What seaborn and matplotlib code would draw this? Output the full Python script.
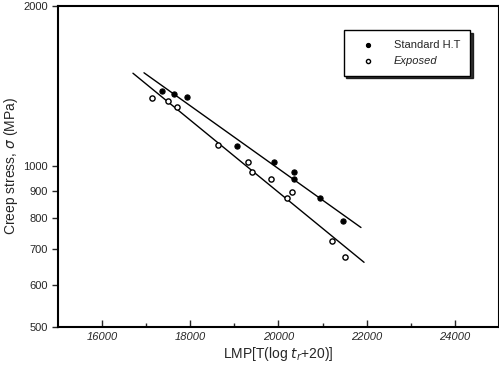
import numpy as np
import pandas as pd
import seaborn as sns
import matplotlib.pyplot as plt
from matplotlib.ticker import FixedLocator, NullFormatter

# data
std_lmp = [17360, 17630, 17925, 19060, 19900, 20350, 20350, 20940, 21460]
std_stress = [1386, 1367, 1350, 1093, 1019, 976, 947, 873, 790]
exp_lmp = [17130, 17495, 17700, 18630, 19310, 19400, 19830, 20190, 20305, 21210, 21510]
exp_stress = [1344, 1327, 1293, 1097, 1019, 976, 947, 873, 896, 725, 676]
# ranges of the two fitted lines
std_range = [16950, 21870]
exp_range = [16700, 21940]

xticks = [16000, 18000, 20000, 22000, 24000]
yticks = [500, 600, 700, 800, 900, 1000, 2000]

df = pd.DataFrame({
    'LMP': std_lmp + exp_lmp,
    'stress': std_stress + exp_stress,
    'group': ['Standard H.T'] * len(std_lmp) + ['Exposed'] * len(exp_lmp),
})

sns.set_style('ticks')
plt.rcParams['font.family'] = ['Liberation Sans', 'DejaVu Sans']

fig = plt.figure(figsize=(4.99, 3.74), dpi=100)
ax = fig.add_axes([0.1162, 0.1257, 0.8838, 0.8583])

# fitted lines (log stress vs LMP)
for lmp, st, rng in [(std_lmp, std_stress, std_range), (exp_lmp, exp_stress, exp_range)]:
    k, b = np.polyfit(lmp, np.log10(st), 1)
    xs = np.array(rng, dtype=float)
    ax.plot(xs, 10 ** (k * xs + b), color='black', lw=1.0, zorder=2)

sns.scatterplot(data=df[df.group == 'Standard H.T'], x='LMP', y='stress', ax=ax,
                marker='o', s=14, color='black', edgecolor='black', linewidth=0.8,
                label='Standard H.T', zorder=3)
sns.scatterplot(data=df[df.group == 'Exposed'], x='LMP', y='stress', ax=ax,
                marker='o', s=14, facecolor='white', edgecolor='black', linewidth=1.0,
                label='Exposed', zorder=3)

ax.set_yscale('log')
ax.set_xlim(15000, 25000)
ax.set_ylim(500, 2000)
ax.yaxis.set_major_locator(FixedLocator(yticks))
ax.yaxis.set_minor_locator(FixedLocator([]))
ax.yaxis.set_minor_formatter(NullFormatter())
ax.set_yticklabels([str(v) for v in yticks], fontsize=8)
ax.set_xticks(xticks)
ax.set_xticks([17000, 19000, 21000, 23000], minor=True)
ax.set_xticklabels([str(v) for v in xticks], fontsize=8, style='italic')
ax.tick_params(axis='x', which='major', direction='in', length=5, width=1)
ax.tick_params(axis='x', which='minor', direction='in', length=3, width=1)
ax.tick_params(axis='y', which='major', direction='out', length=4, width=1)

for s in ax.spines.values():
    s.set_linewidth(1.5)
    s.set_color('black')

ax.set_xlabel(r'LMP[T(log $t_r$+20)]', fontsize=10, labelpad=2)
ax.set_ylabel(r'Creep stress, $\sigma$ (MPa)', fontsize=10, labelpad=2)

leg = ax.legend(loc='upper right', bbox_to_anchor=(0.934, 0.925), fontsize=8,
                frameon=True, fancybox=False, shadow={'color': 'black', 'alpha': 0.8},
                borderpad=0.9, handlelength=2.6, markerscale=0.8,
                handletextpad=1.0, labelspacing=0.5, borderaxespad=0)
leg.get_frame().set_edgecolor('black')
leg.get_frame().set_linewidth(1.0)
leg.get_texts()[1].set_style('italic')

fig.savefig('out.png', dpi=100)
